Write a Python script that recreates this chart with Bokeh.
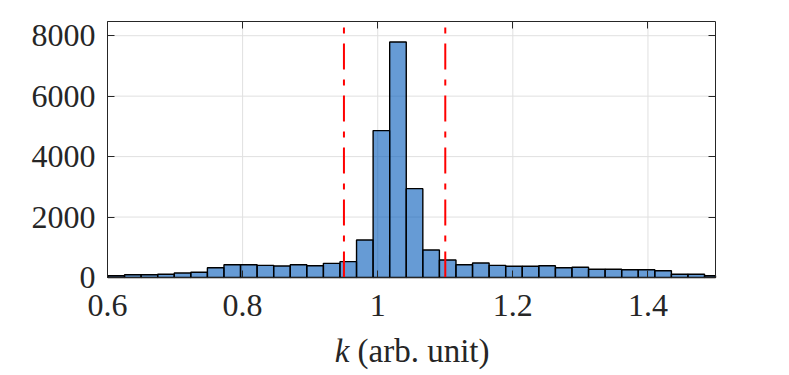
import numpy as np
from bokeh.plotting import figure
from bokeh.models import ColumnDataSource, LinearAxis, FixedTicker, Range1d
from bokeh.core.properties import value
from bokeh.embed import file_html
from bokeh.resources import INLINE

# ---- data ----
bin_start = 0.6007
bin_width = 0.02453
counts = [60, 93, 93, 106, 149, 172, 325, 424, 424, 402, 380, 424, 391, 468, 524,
          1240, 4860, 7790, 2940, 910, 580, 424, 480, 402, 370, 370, 391, 325, 338,
          272, 272, 258, 258, 225, 106, 106, 60]
threshold_lines = [0.95, 1.1]
x_ticks = [0.6, 0.8, 1.0, 1.2, 1.4]
x_tick_labels = ["0.6", "0.8", "1", "1.2", "1.4"]
y_ticks = [0, 2000, 4000, 6000, 8000]
y_tick_labels = ["0", "2000", "4000", "6000", "8000"]
x_label_var = "k"
x_label_unit = "(arb. unit)"
x_limits = (0.6, 1.5)
y_limits = (0, 8470)

# ---- layout (pixels): axes box inside a full-canvas frame ----
W, H = 789, 375
BL, BR, BT = 107, 74, 21
BOX_W, BOX_H = W - BL - BR, 256
BB = H - BT - BOX_H
kx = BOX_W / (x_limits[1] - x_limits[0])
ky = BOX_H / (y_limits[1] - y_limits[0])
x_view = (x_limits[0] - BL / kx, x_limits[1] + BR / kx)
y_view = (y_limits[0] - BB / ky, y_limits[1] + BT / ky)
TITLE_BASELINE_BELOW = 73  # px below the x axis line

FONT = "Liberation Serif"
FS = "32px"
AX = "#262626"
TXT = "#262626"
GRID = "#e0e0e0"

p = figure(frame_width=W, frame_height=H,
           x_range=Range1d(*x_view), y_range=Range1d(*y_view),
           output_backend="svg", toolbar_location=None,
           min_border_left=0, min_border_right=0, min_border_top=0,
           min_border_bottom=0, x_axis_location=None, y_axis_location=None,
           background_fill_color="white", border_fill_color="white")
p.title = None
p.outline_line_color = None
p.xgrid.visible = False
p.ygrid.visible = False

# grid lines inside the axes box
gx = ColumnDataSource(dict(x=x_ticks, y0=[y_limits[0]] * len(x_ticks),
                           y1=[y_limits[1]] * len(x_ticks)))
gy = ColumnDataSource(dict(y=y_ticks, x0=[x_limits[0]] * len(y_ticks),
                           x1=[x_limits[1]] * len(y_ticks)))
p.segment(x0="x", y0="y0", x1="x", y1="y1", source=gx, line_color=GRID,
          line_width=1, level="underlay")
p.segment(x0="x0", y0="y", x1="x1", y1="y", source=gy, line_color=GRID,
          line_width=1, level="underlay")

# histogram bars (clipped to the x limits)
n = len(counts)
left = bin_start + bin_width * np.arange(n)
right = left + bin_width
src = ColumnDataSource(dict(left=np.maximum(left, x_limits[0]),
                            right=np.minimum(right, x_limits[1]),
                            top=counts, bottom=[0] * n))
p.quad(left="left", right="right", top="top", bottom="bottom", source=src,
       fill_color="#0058B9", fill_alpha=0.6, line_color="black", line_width=1.4)

# threshold lines
vsrc = ColumnDataSource(dict(x=threshold_lines,
                             y0=[y_limits[1]] * len(threshold_lines),
                             y1=[y_limits[0]] * len(threshold_lines)))
p.segment(x0="x", y0="y0", x1="x", y1="y1", source=vsrc, line_color="#ff0000",
          line_width=2, line_dash="26 10 6 10", line_dash_offset=30)


def style_axis(ax, ticks, labels):
    ax.ticker = FixedTicker(ticks=ticks)
    ax.axis_line_color = AX
    ax.axis_line_width = 1
    ax.major_tick_line_color = AX
    ax.major_tick_in = 7
    ax.major_tick_out = 0
    ax.minor_tick_line_color = None
    ax.major_label_overrides = {t: l for t, l in zip(ticks, labels)}
    ax.major_label_text_font = FONT
    ax.major_label_text_font_size = FS
    ax.major_label_text_color = TXT


bottom_ax = LinearAxis(fixed_location=y_limits[0], bounds=x_limits)
top_ax = LinearAxis(fixed_location=y_limits[1], bounds=x_limits)
left_ax = LinearAxis(fixed_location=x_limits[0], bounds=y_limits)
right_ax = LinearAxis(fixed_location=x_limits[1], bounds=y_limits)
style_axis(bottom_ax, x_ticks, x_tick_labels)
style_axis(left_ax, y_ticks, y_tick_labels)
style_axis(top_ax, x_ticks, [""] * len(x_ticks))
style_axis(right_ax, y_ticks, [""] * len(y_ticks))
bottom_ax.major_label_standoff = 17
left_ax.major_label_standoff = 12
top_ax.major_label_standoff = 0
right_ax.major_label_standoff = 0
p.add_layout(bottom_ax, "below")
p.add_layout(top_ax, "above")
p.add_layout(left_ax, "left")
p.add_layout(right_ax, "right")

# x-axis title: italic variable + upright unit, centred under the axes box
xc = (x_limits[0] + x_limits[1]) / 2
yt = y_limits[0] - TITLE_BASELINE_BELOW / ky
p.text(x=[xc], y=[yt], text=[x_label_var], x_offset=-62,
       text_font=value(FONT), text_font_size=value("33px"), text_font_style="italic",
       text_align="right", text_baseline="alphabetic", text_color=TXT)
p.text(x=[xc], y=[yt], text=[x_label_unit], x_offset=-54,
       text_font=value(FONT), text_font_size=value("33px"),
       text_align="left", text_baseline="alphabetic", text_color=TXT)

open("out.html", "w").write(file_html(p, INLINE))
